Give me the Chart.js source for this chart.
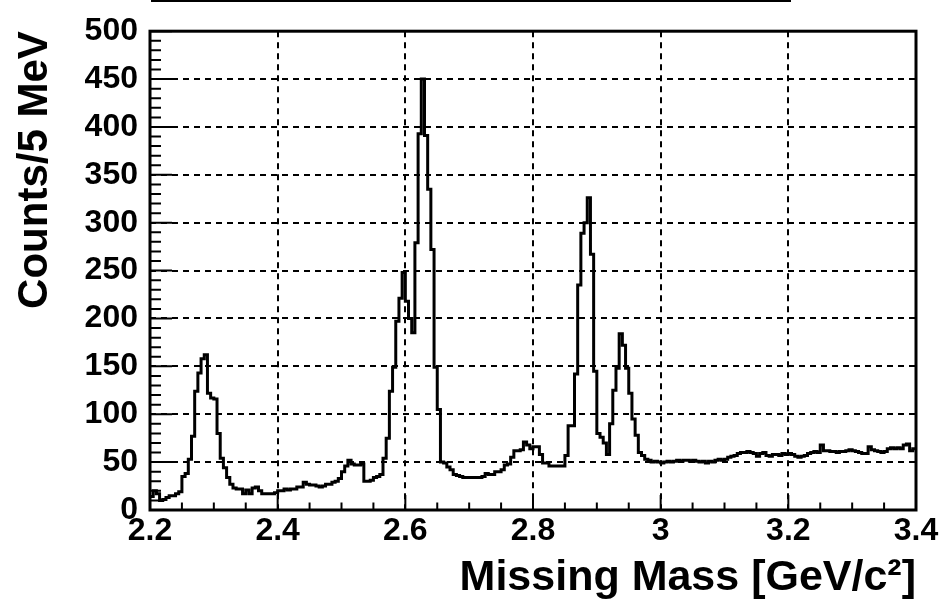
<!DOCTYPE html>
<html>
<head>
<meta charset="utf-8">
<script src="https://cdn.jsdelivr.net/npm/chart.js@4.4.1/dist/chart.umd.min.js"></script>
<style>
  body { margin: 0; background: #fff; }
  canvas { display: block; }
</style>
</head>
<body>
<canvas id="chart" width="945" height="607"></canvas>
<script>
// Histogram binning: 5 MeV bins from 2.2 to 3.4 GeV
const xMin = 2.2;
const xMax = 3.4;
const binWidth = 0.005;

// Counts per 5 MeV bin (240 bins)
const counts = [
  14, 20, 17, 10, 11, 13, 15, 15, 17, 19,
  35, 38, 53, 77, 124, 143, 158, 162, 122, 117,
  116, 80, 54, 44, 34, 27, 23, 22, 22, 17,
  21, 17, 23, 24, 20, 17, 17, 17, 17, 18,
  20, 20, 22, 21, 22, 22, 24, 24, 29, 27,
  26, 26, 25, 24, 25, 27, 27, 29, 30, 33,
  40, 46, 52, 48, 47, 47, 48, 30, 30, 31,
  34, 35, 37, 54, 75, 124, 149, 197, 221, 248,
  218, 200, 185, 279, 393, 450, 391, 335, 272, 149,
  105, 50, 49, 45, 42, 37, 36, 35, 34, 34,
  34, 34, 34, 34, 35, 38, 37, 37, 40, 40,
  42, 47, 48, 55, 62, 62, 63, 71, 68, 64,
  66, 66, 58, 49, 49, 46, 46, 46, 46, 46,
  57, 88, 88, 142, 235, 289, 300, 326, 267, 145,
  80, 76, 70, 58, 90, 125, 148, 184, 172, 148,
  122, 95, 78, 60, 57, 53, 52,
  50, 51, 50, 49, 50, 51, 50,
  51, 52, 51, 52, 52, 51, 52,
  51, 50, 51, 49, 51, 50, 52,
  53, 52, 53, 55, 56, 57,
  59, 60, 60, 61, 60, 59,
  56, 59, 60, 57, 56,
  58, 58, 57, 59, 58, 59, 58,
  56, 55, 56, 57, 59, 60,
  61, 60, 68, 62, 62, 61,
  61, 60, 61, 61, 62, 63, 62,
  61, 60, 59, 59, 66,
  63, 62, 61, 60, 61, 64, 65,
  64, 65, 64, 68, 69, 62, 64
];

// Axis ticks
const xTicks = [2.2, 2.4, 2.6, 2.8, 3, 3.2, 3.4];
const yTicks = [0, 50, 100, 150, 200, 250, 300, 350, 400, 450, 500];
const xMinorStep = 0.05;
const yMinorStep = 10;

// step points at bin left edges, last one closes the final bin
const points = counts.map((c, i) => ({ x: xMin + i * binWidth, y: c }));
points.push({ x: xMax, y: counts[counts.length - 1] });

const FONT = "'Liberation Sans', Arial, Helvetica, sans-serif";

// ROOT style frame + inner ticks
const frameTicks = {
  id: 'frameTicks',
  afterDraw(chart) {
    const { ctx, chartArea: a, scales: { x, y } } = chart;
    ctx.save();
    ctx.strokeStyle = '#000';
    ctx.lineWidth = 2;
    ctx.beginPath();
    const nx = Math.round((xMax - xMin) / xMinorStep);
    for (let k = 0; k <= nx; k++) {
      const px = x.getPixelForValue(xMin + k * xMinorStep);
      const len = k % 4 === 0 ? 15 : 7.5;
      ctx.moveTo(px, a.bottom);
      ctx.lineTo(px, a.bottom - len);
    }
    const ny = Math.round(500 / yMinorStep);
    for (let k = 0; k <= ny; k++) {
      const py = y.getPixelForValue(k * yMinorStep);
      const len = k % 5 === 0 ? 22 : 11;
      ctx.moveTo(a.left, py);
      ctx.lineTo(a.left + len, py);
    }
    ctx.stroke();

    ctx.lineWidth = 3;
    ctx.strokeRect(a.left, a.top, a.right - a.left, a.bottom - a.top);

    // piece of a box cut off at the top of the picture
    ctx.fillStyle = '#000';
    ctx.fillRect(151, 0, 640, 2);
    ctx.restore();
  }
};

new Chart(document.getElementById('chart'), {
  type: 'line',
  data: {
    datasets: [{
      data: points,
      borderColor: '#000',
      borderWidth: 3,
      pointRadius: 0,
      stepped: 'before',
      fill: false
    }]
  },
  options: {
    responsive: false,
    animation: false,
    devicePixelRatio: 1,
    layout: { padding: { top: 20, right: 29, left: 0, bottom: 0 } },
    plugins: { legend: { display: false }, tooltip: { enabled: false } },
    scales: {
      x: {
        type: 'linear',
        min: xMin,
        max: xMax,
        afterBuildTicks: s => { s.ticks = xTicks.map(v => ({ value: v })); },
        afterFit: s => { s.height = 97; },
        grid: { color: '#000', lineWidth: 2, drawTicks: false },
        border: { display: false, dash: [6, 5] },
        ticks: {
          color: '#000',
          padding: 2,
          maxRotation: 0,
          font: { family: FONT, size: 32, weight: 'bold' },
          callback: v => String(+v.toFixed(2))
        },
        title: {
          display: true,
          text: 'Missing Mass [GeV/c²]',
          align: 'end',
          color: '#000',
          padding: { top: 0, bottom: 3 },
          font: { family: FONT, size: 43, weight: 'bold' }
        }
      },
      y: {
        min: 0,
        max: 500,
        afterBuildTicks: s => { s.ticks = yTicks.map(v => ({ value: v })); },
        afterFit: s => { s.width = 150; },
        grid: { color: '#000', lineWidth: 2, drawTicks: false },
        border: { display: false, dash: [6, 5] },
        ticks: {
          color: '#000',
          padding: 12,
          font: { family: FONT, size: 32, weight: 'bold' }
        },
        title: {
          display: true,
          text: 'Counts/5 MeV',
          align: 'end',
          color: '#000',
          padding: { top: 10, bottom: 0 },
          font: { family: FONT, size: 42, weight: 'bold' }
        }
      }
    }
  },
  plugins: [frameTicks]
});
</script>
</body>
</html>
